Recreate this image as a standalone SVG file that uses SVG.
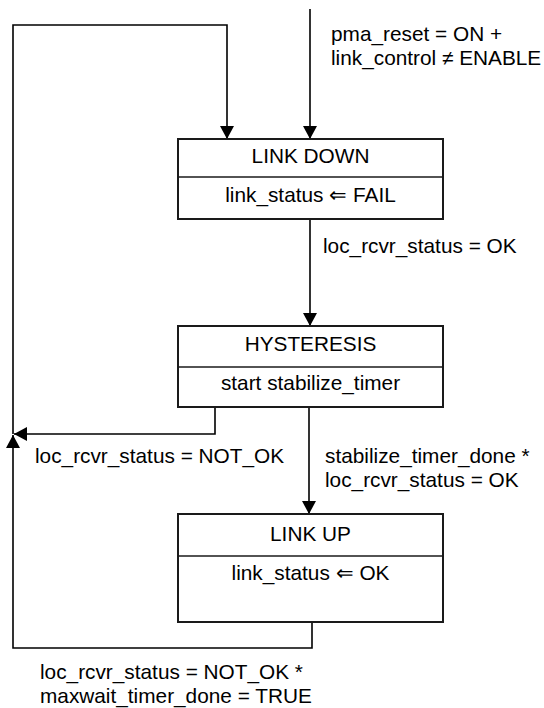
<svg xmlns="http://www.w3.org/2000/svg" width="544" height="708" viewBox="0 0 544 708">
<style>
text{font-family:"Liberation Sans",Arial,sans-serif;font-size:20.8px;fill:#000}
.c{text-anchor:middle}
.box{fill:#fff;stroke:#1a1a1a;stroke-width:2}
.div{stroke:#1a1a1a;stroke-width:1.5}
.ln{fill:none;stroke:#000;stroke-width:1.6}
</style>
<defs>
<marker id="ah" viewBox="0 0 13 14" refX="13" refY="7" markerWidth="13" markerHeight="14" markerUnits="userSpaceOnUse" orient="auto">
<path d="M0,0 L13,7 L0,14 Z" fill="#000"/>
</marker>
</defs>
<rect width="544" height="708" fill="#fff"/>
<g id="connectors">
<path class="ln" d="M310,9 V139" marker-end="url(#ah)"/>
<path class="ln" d="M13,434 V25 H227 V139" marker-end="url(#ah)"/>
<path class="ln" d="M310,219 V326" marker-end="url(#ah)"/>
<path class="ln" d="M215,407 V434 H14" marker-end="url(#ah)"/>
<path class="ln" d="M309,407 V514" marker-end="url(#ah)"/>
<path class="ln" d="M312,622 V648 H13 V435" marker-end="url(#ah)"/>
<text x="331" y="41">pma_reset = ON +</text>
<text x="331" y="65">link_control ≠ ENABLE</text>
<text x="323" y="253">loc_rcvr_status = OK</text>
<text x="35" y="463">loc_rcvr_status = NOT_OK</text>
<text x="325" y="463">stabilize_timer_done *</text>
<text x="325" y="487">loc_rcvr_status = OK</text>
<text x="40" y="679">loc_rcvr_status = NOT_OK *</text>
<text x="40" y="703">maxwait_timer_done = TRUE</text>
</g>
<g id="link-down">
<rect class="box" x="178" y="139" width="265" height="80"/>
<line class="div" x1="178" y1="177" x2="443" y2="177"/>
<text class="c" x="310.5" y="163">LINK DOWN</text>
<text class="c" x="310.5" y="202">link_status ⇐ FAIL</text>
</g>
<g id="hysteresis">
<rect class="box" x="178" y="326" width="265" height="81"/>
<line class="div" x1="178" y1="367" x2="443" y2="367"/>
<text class="c" x="310.5" y="351">HYSTERESIS</text>
<text class="c" x="310.5" y="390">start stabilize_timer</text>
</g>
<g id="link-up">
<rect class="box" x="178" y="514" width="265" height="108"/>
<line class="div" x1="178" y1="556" x2="443" y2="556"/>
<text class="c" x="310.5" y="541">LINK UP</text>
<text class="c" x="310.5" y="580">link_status ⇐ OK</text>
</g>
</svg>
